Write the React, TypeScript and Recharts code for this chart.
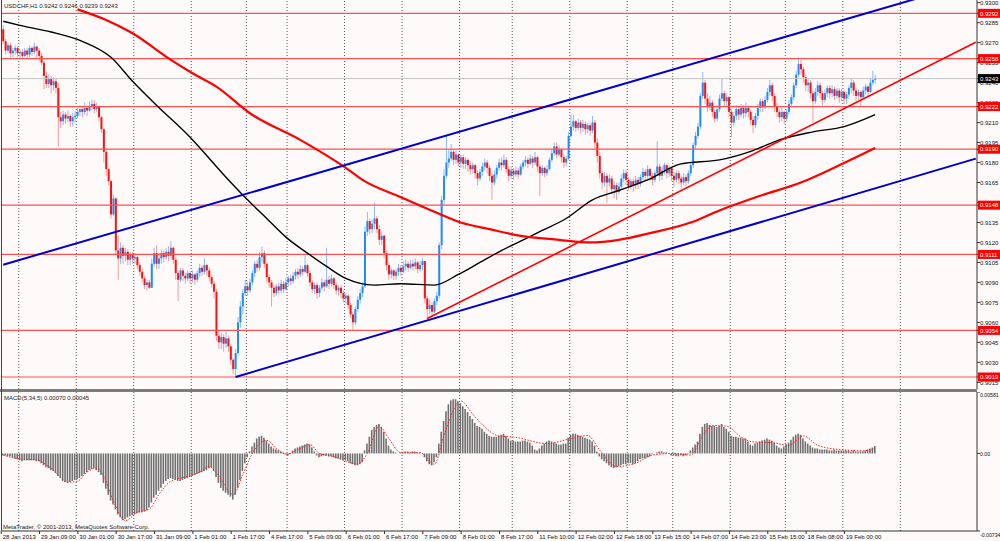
import React from 'react'
import { Bar, ComposedChart, Line, ReferenceLine, XAxis, YAxis } from 'recharts'

// USDCHF H1, 28 Jan - 19 Feb 2013. Prices in 1/10000 (9243 = 0.9243)
const firstOpen = 9280
const closes = [
  9271, 9264, 9268, 9262, 9264, 9266, 9262, 9263, 9260, 9264,
  9261, 9266, 9263, 9267, 9264, 9260, 9255, 9245, 9239, 9243,
  9238, 9241, 9236, 9214, 9211, 9216, 9213, 9215, 9211, 9214,
  9215, 9218, 9220, 9218, 9221, 9219, 9222, 9224, 9220, 9222,
  9214, 9205, 9188, 9175, 9166, 9141, 9153, 9114, 9108, 9116,
  9110, 9113, 9107, 9111, 9108, 9109, 9103, 9098, 9093, 9088,
  9090, 9086, 9104, 9112, 9104, 9108, 9112, 9109, 9113, 9110,
  9116, 9107, 9097, 9092, 9099, 9095, 9093, 9097, 9093, 9096,
  9092, 9097, 9101, 9098, 9103, 9099, 9094, 9089, 9083, 9050,
  9045, 9049, 9044, 9048, 9042, 9032, 9025, 9037, 9060, 9072,
  9082, 9087, 9084, 9090, 9097, 9104, 9101, 9109, 9112, 9104,
  9094, 9090, 9086, 9082, 9087, 9084, 9089, 9085, 9090, 9093,
  9091, 9095, 9098, 9096, 9100, 9098, 9103, 9097, 9090, 9085,
  9088, 9082, 9086, 9090, 9087, 9092, 9089, 9093, 9088, 9084,
  9086, 9082, 9078, 9080, 9073, 9066, 9060, 9070, 9077, 9082,
  9087, 9128, 9136, 9130, 9134, 9138, 9130, 9122, 9125, 9112,
  9103, 9096, 9099, 9095, 9098, 9101, 9098, 9102, 9104, 9101,
  9104, 9102, 9105, 9100, 9103, 9106, 9078, 9070, 9073, 9068,
  9076, 9080, 9118, 9152, 9170, 9180, 9183, 9188, 9182, 9186,
  9180, 9184, 9179, 9182, 9178, 9175, 9178, 9172, 9168, 9173,
  9177, 9180, 9176, 9170, 9165, 9171, 9176, 9180, 9178, 9182,
  9175, 9170, 9174, 9171, 9174, 9171, 9177, 9180, 9182, 9179,
  9183, 9180, 9184, 9177, 9172, 9176, 9172, 9175, 9182, 9187,
  9192, 9186, 9190, 9184, 9180, 9183, 9200, 9207, 9211, 9206,
  9210, 9206, 9209, 9205, 9208, 9204, 9210, 9195, 9185, 9172,
  9165, 9170, 9165, 9168, 9160, 9163, 9158, 9162, 9168, 9172,
  9167, 9162, 9166, 9163, 9167, 9164, 9169, 9173, 9170, 9175,
  9170, 9167, 9172, 9177, 9170, 9174, 9178, 9172, 9176, 9170,
  9167, 9172, 9168, 9165, 9169, 9166, 9172, 9178, 9193, 9200,
  9207, 9230, 9240, 9228, 9222, 9225, 9218, 9213, 9220, 9228,
  9232, 9226, 9229, 9218, 9210, 9215, 9220, 9216, 9221, 9217,
  9221, 9218, 9212, 9208, 9215, 9221, 9226, 9222, 9227, 9233,
  9238, 9230, 9222, 9218, 9214, 9218, 9213, 9218, 9224, 9229,
  9238, 9246, 9254, 9250, 9244, 9238, 9240, 9232, 9226, 9233,
  9238, 9232, 9227, 9232, 9236, 9232, 9235, 9230, 9234, 9229,
  9233, 9228, 9231, 9236, 9240, 9234, 9230, 9233, 9229, 9234,
  9237, 9233, 9240, 9242, 9243,
]
const highs = [
  9283, 9273, 9270, 9270, 9266, 9268, 9267, 9265, 9265, 9266,
  9266, 9268, 9267, 9270, 9268, 9266, 9262, 9256, 9248, 9246,
  9245, 9244, 9243, 9240, 9218, 9219, 9218, 9219, 9216, 9217,
  9219, 9221, 9223, 9222, 9225, 9223, 9226, 9227, 9227, 9225,
  9223, 9215, 9206, 9190, 9176, 9167, 9156, 9154, 9125, 9120,
  9118, 9116, 9115, 9113, 9113, 9112, 9110, 9105, 9100, 9095,
  9092, 9092, 9108, 9116, 9118, 9112, 9114, 9114, 9116, 9117,
  9121, 9117, 9109, 9099, 9101, 9101, 9097, 9099, 9098, 9099,
  9097, 9099, 9104, 9103, 9108, 9104, 9101, 9096, 9091, 9085,
  9054, 9052, 9051, 9053, 9050, 9044, 9033, 9040, 9064, 9076,
  9085, 9092, 9090, 9093, 9099, 9106, 9107, 9113, 9117, 9114,
  9105, 9096, 9092, 9088, 9089, 9090, 9092, 9091, 9093, 9095,
  9096, 9098, 9100, 9101, 9103, 9102, 9110, 9104, 9099, 9092,
  9090, 9090, 9088, 9093, 9092, 9116, 9095, 9096, 9094, 9090,
  9088, 9088, 9084, 9082, 9081, 9075, 9068, 9072, 9080, 9085,
  9090, 9132, 9143, 9138, 9137, 9150, 9140, 9133, 9128, 9126,
  9114, 9105, 9101, 9100, 9100, 9104, 9103, 9106, 9107, 9106,
  9107, 9107, 9108, 9106, 9106, 9108, 9106, 9080, 9077, 9075,
  9078, 9083, 9120, 9155, 9175, 9200, 9190, 9194, 9190, 9189,
  9187, 9186, 9186, 9184, 9183, 9181, 9180, 9179, 9174, 9175,
  9180, 9183, 9182, 9178, 9172, 9174, 9178, 9183, 9184, 9186,
  9184, 9177, 9177, 9176, 9177, 9176, 9179, 9182, 9185, 9184,
  9186, 9185, 9188, 9185, 9179, 9178, 9177, 9178, 9184, 9190,
  9195, 9195, 9193, 9191, 9186, 9185, 9203, 9216, 9216, 9212,
  9213, 9212, 9212, 9211, 9210, 9210, 9215, 9212, 9198, 9188,
  9174, 9173, 9172, 9171, 9170, 9166, 9165, 9165, 9171, 9175,
  9174, 9169, 9168, 9168, 9170, 9169, 9171, 9176, 9175, 9178,
  9176, 9172, 9174, 9196, 9179, 9177, 9180, 9179, 9178, 9177,
  9173, 9174, 9174, 9170, 9172, 9171, 9174, 9180, 9195, 9203,
  9210, 9232, 9248, 9242, 9232, 9230, 9227, 9220, 9223, 9231,
  9243, 9234, 9232, 9230, 9220, 9218, 9223, 9222, 9224, 9223,
  9225, 9223, 9220, 9215, 9217, 9224, 9228, 9228, 9230, 9236,
  9242, 9240, 9232, 9225, 9220, 9221, 9219, 9220, 9227, 9231,
  9240, 9249, 9259, 9257, 9252, 9246, 9243, 9242, 9234, 9236,
  9241, 9240, 9234, 9235, 9238, 9238, 9238, 9237, 9236, 9236,
  9235, 9234, 9233, 9238, 9243, 9242, 9236, 9235, 9234, 9237,
  9239, 9238, 9243, 9249, 9246,
]
const lows = [
  9269, 9261, 9262, 9259, 9259, 9261, 9259, 9258, 9258, 9259,
  9258, 9259, 9260, 9261, 9259, 9256, 9253, 9235, 9236, 9236,
  9232, 9234, 9232, 9192, 9206, 9208, 9209, 9210, 9207, 9207,
  9210, 9213, 9215, 9214, 9216, 9215, 9218, 9219, 9217, 9218,
  9211, 9202, 9180, 9170, 9163, 9138, 9140, 9111, 9092, 9104,
  9104, 9106, 9103, 9103, 9104, 9104, 9100, 9095, 9090, 9085,
  9084, 9085, 9086, 9102, 9100, 9100, 9104, 9105, 9107, 9106,
  9107, 9104, 9092, 9076, 9090, 9091, 9089, 9091, 9089, 9090,
  9088, 9090, 9094, 9095, 9096, 9095, 9091, 9086, 9078, 9046,
  9040, 9040, 9038, 9041, 9038, 9028, 9021, 9019, 9035, 9056,
  9066, 9080, 9080, 9082, 9088, 9094, 9098, 9099, 9105, 9101,
  9090, 9086, 9072, 9079, 9080, 9081, 9082, 9082, 9084, 9087,
  9088, 9089, 9092, 9093, 9094, 9095, 9097, 9094, 9087, 9082,
  9081, 9078, 9079, 9084, 9083, 9086, 9085, 9087, 9085, 9081,
  9080, 9078, 9075, 9074, 9070, 9063, 9054, 9058, 9068, 9074,
  9079, 9086, 9125, 9126, 9127, 9130, 9127, 9118, 9118, 9108,
  9099, 9092, 9093, 9092, 9092, 9095, 9095, 9097, 9099, 9098,
  9100, 9099, 9100, 9097, 9098, 9099, 9074, 9063, 9066, 9065,
  9067, 9073, 9078, 9115, 9148, 9168, 9176, 9181, 9178, 9179,
  9177, 9176, 9175, 9175, 9173, 9171, 9172, 9168, 9163, 9166,
  9170, 9174, 9172, 9166, 9152, 9163, 9168, 9174, 9174, 9176,
  9172, 9166, 9168, 9167, 9169, 9168, 9170, 9175, 9177, 9176,
  9178, 9176, 9178, 9173, 9155, 9170, 9169, 9170, 9174, 9180,
  9185, 9183, 9184, 9180, 9176, 9177, 9182, 9199, 9204, 9203,
  9204, 9202, 9203, 9201, 9202, 9200, 9202, 9190, 9180, 9168,
  9160, 9162, 9150, 9162, 9156, 9153, 9152, 9156, 9160, 9165,
  9163, 9159, 9160, 9158, 9160, 9160, 9162, 9167, 9166, 9168,
  9166, 9163, 9165, 9170, 9166, 9167, 9171, 9168, 9169, 9166,
  9162, 9165, 9164, 9160, 9163, 9162, 9164, 9170, 9176, 9190,
  9198, 9205, 9228, 9224, 9218, 9219, 9214, 9210, 9211, 9218,
  9226, 9222, 9222, 9214, 9199, 9207, 9212, 9212, 9214, 9213,
  9214, 9214, 9208, 9202, 9206, 9212, 9218, 9218, 9220, 9225,
  9230, 9226, 9218, 9214, 9210, 9211, 9209, 9211, 9216, 9222,
  9227, 9236, 9244, 9246, 9240, 9234, 9233, 9228, 9210, 9224,
  9230, 9228, 9223, 9225, 9229, 9228, 9229, 9227, 9228, 9225,
  9226, 9224, 9224, 9228, 9232, 9230, 9226, 9227, 9222, 9228,
  9231, 9230, 9232, 9238, 9239,
]

// MACD(5,34,5) main line, in 1/100000
const macdMain = [
  -19, -19, -28, -28, -37, -47, -56, -65, -74, -65,
  -65, -65, -65, -65, -74, -74, -93, -112, -130, -140,
  -158, -167, -186, -214, -233, -260, -270, -279, -270, -260,
  -251, -242, -233, -214, -195, -177, -158, -149, -140, -158,
  -177, -205, -279, -335, -391, -446, -484, -530, -577, -605,
  -632, -623, -605, -595, -586, -577, -567, -558, -558, -549,
  -539, -512, -465, -419, -391, -353, -326, -288, -260, -242,
  -233, -242, -251, -260, -260, -251, -242, -233, -223, -214,
  -205, -195, -186, -177, -167, -158, -140, -130, -167, -223,
  -279, -326, -353, -372, -391, -409, -437, -391, -326, -251,
  -167, -93, -37, 19, 65, 102, 140, 158, 167, 149,
  121, 93, 65, 47, 37, 28, 19, 9, -9, -19,
  -9, 28, 47, 56, 65, 74, 84, 93, 84, 56,
  19, -19, -37, -28, -19, -19, -28, -28, -37, -47,
  -47, -56, -65, -65, -74, -93, -102, -112, -112, -102,
  -84, 28, 93, 158, 223, 251, 270, 279, 251, 205,
  140, 74, 37, 19, 9, 0, 9, 9, 19, 19,
  9, 19, 19, 9, 9, 0, -37, -74, -102, -112,
  -84, -37, 93, 205, 307, 400, 465, 502, 512, 512,
  493, 474, 446, 419, 391, 353, 326, 288, 260, 251,
  233, 205, 186, 167, 158, 158, 158, 167, 177, 186,
  167, 140, 121, 121, 112, 112, 112, 121, 121, 112,
  102, 74, 37, 28, 47, 74, 93, 112, 121, 112,
  102, 93, 84, 84, 93, 93, 149, 177, 186, 186,
  177, 167, 158, 149, 140, 130, 112, 74, 19, -28,
  -56, -74, -93, -112, -130, -140, -130, -121, -112, -102,
  -102, -93, -93, -102, -93, -74, -56, -47, -47, -37,
  -28, -9, 0, 9, 19, 19, 9, 9, 0, -19,
  -19, -28, -28, -19, -28, -19, -9, 28, 56, 84,
  112, 186, 251, 279, 288, 270, 260, 260, 251, 260,
  279, 251, 233, 205, 167, 158, 158, 149, 149, 140,
  140, 112, 84, 74, 93, 102, 112, 121, 130, 140,
  130, 121, 102, 74, 56, 47, 65, 84, 102, 130,
  158, 177, 186, 177, 140, 112, 93, 74, 56, 47,
  47, 37, 37, 37, 37, 28, 28, 37, 28, 28,
  28, 28, 28, 28, 19, 28, 19, 19, 19, 19,
  28, 37, 47, 56, 70,
]
// MACD signal line (red dotted), read at these bars, in 1/100000
const signalBars = [0, 7, 14, 20, 27, 31, 35, 39, 42, 46, 51, 56, 61, 65, 70, 77, 82, 86, 90, 96, 100, 104, 110, 114, 118, 124, 128, 132, 138, 148, 152, 157, 161, 166, 174, 180, 184, 191, 196, 199, 207, 213, 227, 237, 244, 249, 256, 264, 271, 280, 287, 292, 296, 302, 308, 313, 321, 328, 334, 340, 349, 359, 364]
const signalValues = [-16, -53, -62, -140, -272, -263, -177, -140, -217, -449, -635, -558, -527, -388, -263, -217, -177, -124, -217, -388, -202, 0, 124, 47, -7, 47, 84, 0, -31, -100, 0, 258, 140, 7, 7, -102, 170, 496, 372, 295, 165, 155, 93, 140, 170, 31, -124, -93, -16, 0, -16, 170, 263, 258, 155, 109, 102, 77, 165, 77, 37, 25, 45]

// moving averages, read at these bars (prices in 1/10000)
const blackMaBars = [0, 7, 20, 33, 45, 54, 64, 78, 93, 102, 110, 118, 127, 135, 143, 155, 166, 180, 190, 199, 207, 216, 225, 235, 246, 257, 269, 283, 299, 313, 324, 338, 351, 364]
const blackMaValues = [9286, 9283, 9278, 9271, 9259, 9241, 9223, 9199, 9169, 9152, 9138, 9124, 9112, 9102, 9093, 9088, 9089, 9088, 9096, 9105, 9113, 9121, 9129, 9138, 9152, 9159, 9167, 9179, 9182, 9189, 9197, 9203, 9207, 9216]
const redMaBars = [31, 43, 54, 70, 79, 89, 103, 124, 143, 150, 166, 180, 191, 203, 216, 232, 245, 257, 270, 287, 299, 316, 333, 349, 364]
const redMaValues = [9295, 9287, 9277, 9257, 9247, 9237, 9217, 9197, 9176, 9167, 9154, 9143, 9135, 9130, 9125, 9122, 9120, 9122, 9127, 9135, 9144, 9155, 9165, 9178, 9191]

// horizontal levels and trend lines
const levels = [9292, 9258, 9222, 9190, 9148, 9111, 9054, 9019]
const lastPrice = 9243
const channelUpper = [[0, 9103.3], [406, 9316]]
const channelLower = [[97, 9019], [406, 9182.9]]
const trendRed = [[177, 9062.9], [406, 9270.3]]

const priceTicks = [9015, 9030, 9045, 9060, 9075, 9090, 9105, 9120, 9135, 9150, 9165, 9180, 9195, 9210, 9225, 9240, 9255, 9270, 9285, 9300]
const macdTicks = [581, 0, -734]

const timeLabels = [
  '28 Jan 2013', '29 Jan 09:00', '30 Jan 01:00', '30 Jan 17:00', '31 Jan 09:00', '1 Feb 01:00',
  '1 Feb 17:00', '4 Feb 17:00', '5 Feb 09:00', '6 Feb 01:00', '6 Feb 17:00', '7 Feb 09:00',
  '8 Feb 01:00', '8 Feb 17:00', '11 Feb 10:00', '12 Feb 02:00', '12 Feb 18:00', '13 Feb 15:00',
  '14 Feb 07:00', '14 Feb 23:00', '15 Feb 15:00', '18 Feb 08:00', '19 Feb 00:00',
]
const labelEvery = 16
// last bar of each trading day (grid separators)
const daySeparators = [6, 30, 54, 78, 101, 118, 142, 166, 190, 212, 236, 260, 279, 303, 326, 350, 374]
const slotCount = 407

const rows: any[] = Array.from({ length: slotCount }, (_, i) => {
  const row: any = { i }
  if (i < closes.length) {
    const o = (i === 0 ? firstOpen : closes[i - 1]) / 1e4
    const c = closes[i] / 1e4
    const h = Math.max(highs[i] / 1e4, o, c)
    const l = Math.min(lows[i] / 1e4, o, c)
    Object.assign(row, { o, h, l, c, range: [l, h] })
  }
  if (i < macdMain.length) row.macd = macdMain[i] / 1e5
  if (i % labelEvery === 0 && timeLabels[i / labelEvery]) row.time = timeLabels[i / labelEvery]
  return row
})
signalBars.forEach((b, k) => (rows[b].signal = signalValues[k] / 1e5))
blackMaBars.forEach((b, k) => (rows[b].maBlack = blackMaValues[k] / 1e4))
redMaBars.forEach((b, k) => (rows[b].maRed = redMaValues[k] / 1e4))

const tickBars = timeLabels.map((_, k) => k * labelEvery)
const tagSet = new Set(levels)
const FONT = '"Liberation Sans", Arial, sans-serif'

function Candle(props: any) {
  const { x, y, width, height, payload } = props
  if (!payload || payload.o == null) return null
  const { o, h, l, c } = payload
  const top = Math.min(y, y + height)
  const bottom = Math.max(y, y + height)
  const span = h - l
  const at = (v: number) => (span > 0 ? top + ((h - v) / span) * (bottom - top) : top)
  const up = c > o
  const mid = x + width / 2
  const bTop = at(Math.max(o, c))
  const bBot = at(Math.min(o, c))
  return (
    <g>
      <rect x={mid - 0.5} y={top} width={1} height={Math.max(bottom - top, 1)} fill={up ? '#86bdf5' : '#f79a9a'} />
      <rect x={mid - 1} y={bTop} width={2} height={Math.max(bBot - bTop, 1)} fill={up ? '#1e8cff' : '#ff1010'} />
    </g>
  )
}

function PriceTick(props: any) {
  const { x, y, payload } = props
  const v = Math.round(payload.value * 1e4)
  const text = payload.value.toFixed(4)
  if (v === lastPrice || tagSet.has(v)) {
    return (
      <g>
        <rect x={x - 2} y={y - 4.5} width={23} height={9} fill={v === lastPrice ? '#000' : '#ff0000'} />
        <text x={x} y={y + 2.2} fontSize={6} fill="#fff" fontFamily={FONT}>{text}</text>
      </g>
    )
  }
  return <text x={x} y={y + 2.2} fontSize={6} fill="#111" fontFamily={FONT}>{text}</text>
}

function MacdTick(props: any) {
  const { x, y, payload } = props
  const v = Math.round(payload.value * 1e5)
  const text = v === 0 ? '0.00' : payload.value.toFixed(5)
  const dy = v > 0 ? 5 : v < 0 ? 6 : 2.2
  return <text x={x} y={y + dy} fontSize={5.2} fill="#111" fontFamily={FONT}>{text}</text>
}

function TimeTick(props: any) {
  const { x, y, payload } = props
  const label = rows[payload.value]?.time
  if (!label) return null
  return (
    <g>
      <line x1={x - 2} x2={x - 2} y1={y} y2={y + 3} stroke="#333" />
      <text x={x - 0.5} y={y + 8} fontSize={6} fill="#111" fontFamily={FONT}>{label}</text>
    </g>
  )
}

const seg = (s: number[][]) => [
  { x: s[0][0], y: s[0][1] / 1e4 },
  { x: s[1][0], y: s[1][1] / 1e4 },
]

export default function App() {
  return (
    <div
      style={{
        position: 'absolute',
        left: 0,
        top: 0,
        width: 1000,
        height: 541,
        background: '#fffafa',
        fontFamily: FONT,
        overflow: 'hidden',
      }}
    >
      <div style={{ position: 'absolute', left: 0, top: 0 }}>
        <ComposedChart width={1000} height={389} data={rows} margin={{ top: 0, right: 0, bottom: 0, left: 2 }}>
          <XAxis dataKey="i" hide />
          <YAxis
            orientation="right"
            width={23}
            type="number"
            domain={[0.901, 0.9302]}
            allowDataOverflow
            ticks={[...priceTicks, ...levels, lastPrice].map((v) => v / 1e4)}
            interval={0}
            tick={<PriceTick />}
            tickSize={3}
            tickMargin={0}
            tickLine={{ stroke: '#333' }}
            axisLine={{ stroke: '#333' }}
          />
          {daySeparators.map((d) => (
            <ReferenceLine key={'d' + d} x={d} position="end" stroke="#555" strokeDasharray="1 2" />
          ))}
          {levels.map((v) => (
            <ReferenceLine key={'l' + v} y={v / 1e4} stroke="#ff5050" strokeWidth={1.2} />
          ))}
          <ReferenceLine y={lastPrice / 1e4} stroke="#c4c4c4" />
          <Bar dataKey="range" shape={(p: any) => <Candle {...p} />} isAnimationActive={false} />
          <Line dataKey="maBlack" type="monotone" stroke="#000" strokeWidth={1.4} dot={false} activeDot={false} connectNulls isAnimationActive={false} />
          <Line dataKey="maRed" type="monotone" stroke="#ff0000" strokeWidth={2.2} dot={false} activeDot={false} connectNulls isAnimationActive={false} />
          <ReferenceLine segment={seg(channelUpper)} ifOverflow="hidden" stroke="#0000cd" strokeWidth={2} />
          <ReferenceLine segment={seg(channelLower)} ifOverflow="hidden" stroke="#0000cd" strokeWidth={2} />
          <ReferenceLine segment={seg(trendRed)} ifOverflow="hidden" stroke="#ff0000" strokeWidth={1.6} />
        </ComposedChart>
      </div>
      <div style={{ position: 'absolute', left: 0, top: 389, width: 977, height: 3, background: '#7c7c7c' }} />
      <div style={{ position: 'absolute', left: 0, top: 392 }}>
        <ComposedChart width={1000} height={149} data={rows} margin={{ top: 0, right: 0, bottom: 0, left: 2 }}>
          <XAxis
            dataKey="i"
            height={10}
            ticks={tickBars}
            interval={0}
            tick={<TimeTick />}
            tickLine={false}
            tickSize={0}
            tickMargin={0}
            axisLine={{ stroke: '#333' }}
          />
          <YAxis
            orientation="right"
            width={23}
            type="number"
            domain={[-0.00734, 0.00581]}
            allowDataOverflow
            ticks={macdTicks.map((v) => v / 1e5)}
            interval={0}
            tick={<MacdTick />}
            tickSize={3}
            tickMargin={0}
            tickLine={{ stroke: '#333' }}
            axisLine={{ stroke: '#333' }}
          />
          {daySeparators.map((d) => (
            <ReferenceLine key={'m' + d} x={d} position="end" stroke="#555" strokeDasharray="1 2" />
          ))}
          <Bar dataKey="macd" fill="#707070" barSize={1.6} isAnimationActive={false} />
          <Line dataKey="signal" type="monotone" stroke="#ff2020" strokeWidth={1} strokeDasharray="1.5 1.5" dot={false} activeDot={false} connectNulls isAnimationActive={false} />
        </ComposedChart>
      </div>
      <div style={{ position: 'absolute', left: 1, top: 0, width: 1, height: 531, background: '#444' }} />
      <svg width={1000} height={541} style={{ position: 'absolute', left: 0, top: 0, pointerEvents: 'none' }}>
        <text x={4} y={8} fontSize={6} fill="#1a1a1a" fontFamily={FONT}>USDCHF,H1  0.9242 0.9246 0.9239 0.9243</text>
        <text x={4} y={400} fontSize={6} fill="#1a1a1a" fontFamily={FONT}>MACD(5,34,5) 0.00070 0.00045</text>
        <text x={3} y={529} fontSize={6} fill="#1a1a1a" fontFamily={FONT}>MetaTrader, © 2001-2013, MetaQuotes Software Corp.</text>
      </svg>
    </div>
  )
}
